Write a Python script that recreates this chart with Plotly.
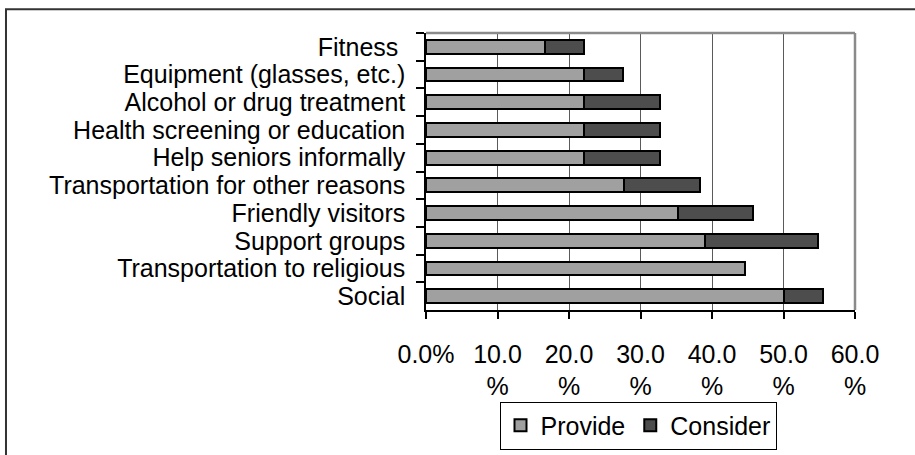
import plotly.graph_objects as go

categories = [
    "Fitness\u00a0",
    "Equipment (glasses, etc.)",
    "Alcohol or drug treatment",
    "Health screening or education",
    "Help seniors informally",
    "Transportation for other reasons",
    "Friendly visitors",
    "Support groups",
    "Transportation to religious",
    "Social",
]
provide = [16.7, 22.1, 22.1, 22.1, 22.1, 27.7, 35.3, 39.0, 44.6, 50.1]
consider = [5.4, 5.4, 10.6, 10.6, 10.6, 10.6, 10.5, 15.8, 0.0, 5.4]

tick_vals = [0, 10, 20, 30, 40, 50, 60]
tick_text = ["0.0%", "10.0<br>%", "20.0<br>%", "30.0<br>%", "40.0<br>%", "50.0<br>%", "60.0<br>%"]

FONT = "Liberation Sans, Arial, sans-serif"

fig = go.Figure()
fig.add_trace(go.Bar(
    y=categories, x=provide, name="Provide", orientation="h",
    marker=dict(color="#a0a0a0", line=dict(color="#000000", width=2)),
))
fig.add_trace(go.Bar(
    y=categories, x=consider, name="Consider", orientation="h",
    marker=dict(color="#4d4d4d", line=dict(color="#000000", width=2)),
))

L, R, T, B = 426, 59.5, 32.5, 144.5
W = 915 - L - R
H = 455 - T - B

def px_to_paper_x(px):
    return (px - L) / W

def px_to_paper_y(py):
    return (455 - B - py) / H

fig.update_layout(
    width=915, height=455,
    margin=dict(l=L, r=R, t=T, b=B, pad=0, autoexpand=False),
    barmode="stack",
    bargap=0.5,
    paper_bgcolor="white",
    plot_bgcolor="white",
    font=dict(family=FONT, size=25, color="#000000"),
    showlegend=True,
    legend=dict(
        orientation="h",
        traceorder="normal",
        xref="container", yref="container",
        x=638 / 915, xanchor="center",
        y=(455 - 449.5) / 455, yanchor="bottom",
        bordercolor="#000000", borderwidth=1,
        bgcolor="white",
        font=dict(family=FONT, size=25, color="#000000"),
        itemclick=False,
    ),
    xaxis=dict(
        range=[0, 60],
        tickvals=tick_vals,
        ticktext=tick_text,
        ticks="outside", ticklen=7, tickcolor="#000000", tickwidth=1.5,
        showline=True, linecolor="#000000", linewidth=1.5,
        showgrid=True, gridcolor="#5a5a5a", gridwidth=1,
        zeroline=False,
        ticklabelstandoff=14,
        fixedrange=True,
    ),
    yaxis=dict(
        autorange="reversed",
        type="category",
        tickmode="linear", tick0=0, dtick=1,
        ticks="outside", ticklen=8, tickcolor="#000000", tickwidth=1.5,
        tickson="boundaries",
        showline=True, linecolor="#000000", linewidth=1.5,
        showgrid=False,
        ticklabelstandoff=14,
        fixedrange=True,
    ),
    shapes=[
        dict(type="line", xref="paper", yref="paper", x0=0, x1=1, y0=1, y1=1,
             line=dict(color="#8a8a8a", width=2.5), layer="above"),
        dict(type="line", xref="paper", yref="paper", x0=1, x1=1, y0=0, y1=1,
             line=dict(color="#8a8a8a", width=2.5), layer="above"),
        dict(type="rect", xref="paper", yref="paper",
             x0=px_to_paper_x(5.5), x1=px_to_paper_x(925),
             y0=px_to_paper_y(470), y1=px_to_paper_y(8.7),
             line=dict(color="#333333", width=2), layer="below"),
    ],
)

fig.write_html(
    "out.html",
    config={"displayModeBar": False},
    post_script="document.body.style.margin='0';document.body.style.overflow='hidden';",
)
